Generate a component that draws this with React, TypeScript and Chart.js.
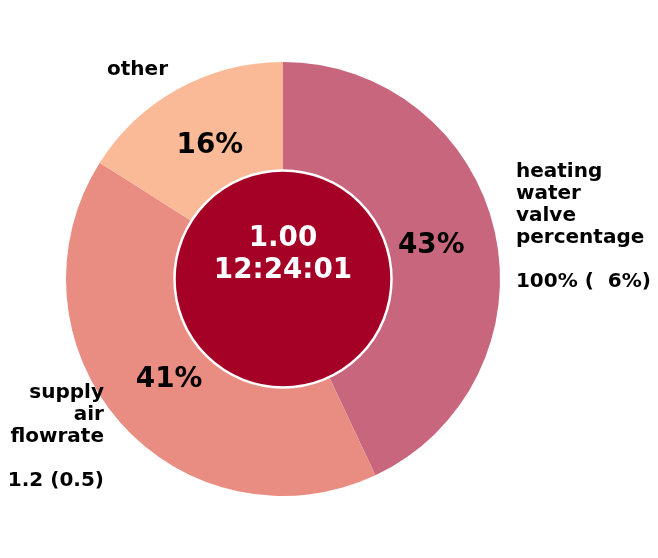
import React, { useEffect, useRef } from "react";
import { Chart, registerables } from "chart.js";

Chart.register(...registerables);

const categories = ["heating water valve percentage", "supply air flowrate", "other"];
const shares = [43, 41, 16];
const sliceColors = ["#c8667d", "#e98d82", "#fbba97"];
const outerLabelLines = [
  ["heating", "water", "valve", "percentage", "", "100% (  6%)"],
  ["supply", "air", "flowrate", "", "1.2 (0.5)"],
  ["other"],
];
const centerLines = ["1.00", "12:24:01"];
const centerColor = "#a50026";

const FONT = "'DejaVu Sans', sans-serif";

const labelPlugin = {
  id: "pieLabels",
  afterDatasetsDraw(chart: any) {
    const ctx = chart.ctx;
    const meta = chart.getDatasetMeta(0);
    ctx.save();
    meta.data.forEach((arc: any, i: number) => {
      const p = arc.getProps(["x", "y", "startAngle", "endAngle", "outerRadius"], true);
      const mid = (p.startAngle + p.endAngle) / 2;
      const c = Math.cos(mid);
      const s = Math.sin(mid);
      // percentage labels
      const rp = p.outerRadius * 0.7;
      ctx.fillStyle = "#000";
      ctx.font = `bold 27.8px ${FONT}`;
      ctx.textAlign = "center";
      ctx.textBaseline = "middle";
      ctx.fillText(`${shares[i]}%`, p.x + rp * c, p.y + rp * s);
      // outer labels
      const rl = p.outerRadius * 1.1;
      const lx = p.x + rl * c;
      const ly = p.y + rl * s;
      const lines = outerLabelLines[i];
      ctx.font = `bold 20px ${FONT}`;
      ctx.textAlign = c >= 0 ? "left" : "right";
      const lh = 22;
      lines.forEach((ln, j) => {
        ctx.fillText(ln, lx, ly + (j - (lines.length - 1) / 2) * lh);
      });
    });
    // center circle
    const first = meta.data[0];
    if (first) {
      const cx = first.x;
      const cy = first.y;
      const r = first.outerRadius * 0.5;
      ctx.beginPath();
      ctx.arc(cx, cy, r, 0, Math.PI * 2);
      ctx.fillStyle = centerColor;
      ctx.fill();
      ctx.lineWidth = 2.5;
      ctx.strokeStyle = "#ffffff";
      ctx.stroke();
      ctx.fillStyle = "#ffffff";
      ctx.font = `bold 27.8px ${FONT}`;
      ctx.textAlign = "center";
      ctx.textBaseline = "alphabetic";
      const lh = 32;
      centerLines.forEach((ln, j) => {
        ctx.fillText(ln, cx, cy - 33 + j * lh);
      });
    }
    ctx.restore();
  },
};

export default function App() {
  const ref = useRef<HTMLCanvasElement | null>(null);
  useEffect(() => {
    if (!ref.current) return;
    const chart = new Chart(ref.current, {
      type: "pie",
      data: {
        labels: categories,
        datasets: [
          {
            data: shares,
            backgroundColor: sliceColors,
            borderWidth: 0,
          },
        ],
      },
      options: {
        responsive: false,
        animation: false,
        layout: { padding: { left: 66, right: 158, top: 62, bottom: 62 } },
        plugins: {
          legend: { display: false },
          tooltip: { enabled: false },
          title: { display: false },
        },
      },
      plugins: [labelPlugin],
    });
    return () => chart.destroy();
  }, []);
  return (
    <canvas
      ref={ref}
      width={658}
      height={558}
      style={{ position: "absolute", left: 0, top: 0, width: 658, height: 558 }}
    />
  );
}
